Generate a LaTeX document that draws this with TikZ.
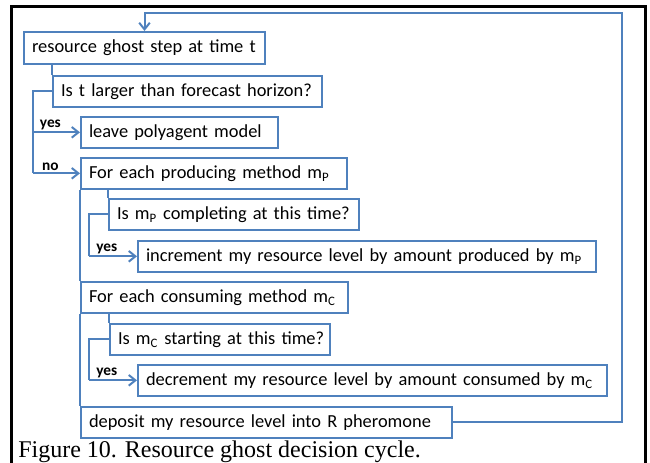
\documentclass[tikz,border=0pt]{standalone}
\usepackage{fontspec}
\setmainfont{Carlito}
\newfontfamily\capfont{Liberation Serif}
\usepackage{tikz}
\usetikzlibrary{arrows.meta}
\definecolor{boxblue}{RGB}{79,129,189}
\tikzset{
  >={Straight Barb[length=5pt,width=8pt]},
  blk/.style={draw=boxblue, line width=1.5pt, anchor=north west,
    minimum height=23pt, inner xsep=6pt, inner ysep=1pt,
    text width=#1, align=left, font=\fontsize{13.8}{16}\selectfont,
    execute at begin node={\hbox\bgroup}, execute at end node={\egroup}},
  link/.style={draw=boxblue, line width=1.5pt},
  flow/.style={link, ->},
  lab/.style={font=\bfseries\fontsize{11.5}{12}\selectfont, inner sep=1pt,
    above, pos=0.37},
}

\begin{document}
\begin{tikzpicture}[x=0.75pt, y=-0.75pt]
    \useasboundingbox (0,0) rectangle (650,463);
    \draw[line width=2.25pt] (11,463) -- (11,7) -- (645,7) -- (645,463);

    \node [blk=168.75pt, minimum height=24pt] (ghost) at (23,31) {resource ghost step at time t};
    \node [blk=189.75pt] (horizon) at (52,75) {Is t larger than forecast horizon?};
    \node [blk=135.75pt] (leave) at (80,116) {leave polyagent model};
    \node [blk=187.5pt] (produce) at (80,157) {For each producing method m\textsubscript{P}};
    \node [blk=175.5pt] (checkP) at (108,198) {Is m\textsubscript{P} completing at this time?};
    \node [blk=331.5pt] (incr) at (137,240) {increment my resource level by amount produced by m\textsubscript{P}};
    \node [blk=188.25pt] (consume) at (80,281) {For each consuming method m\textsubscript{C}};
    \node [blk=153pt] (checkC) at (109,323) {Is m\textsubscript{C} starting at this time?};
    \node [blk=339.75pt] (decr) at (137,364) {decrement my resource level by amount consumed by m\textsubscript{C}};
    \node [blk=266.25pt] (deposit) at (80,406) {deposit my resource level into R pheromone};

    \coordinate (fork) at (33,0);
    \coordinate (forkP) at (89,0);
    \coordinate (ret) at (622,13);

    \draw[link] (ghost.south -| horizon.west) -- (horizon.north west);
    \draw[link] (horizon.west) -| (fork |- produce.west);
    \draw[flow] (fork |- leave.west) -- node[lab] {yes} (leave.west);
    \draw[flow] (fork |- produce.west) -- node[lab] {no} (produce.west);

    \draw[link] (produce.south west) -- (consume.north west);
    \draw[link] (produce.south -| checkP.west) -- (checkP.north west);
    \draw[link] (checkP.west) -| (forkP |- incr.west);
    \draw[flow] (forkP |- incr.west) -- node[lab] {yes} (incr.west);

    \draw[link] (consume.south west) -- (deposit.north west);
    \draw[link] (consume.south -| checkC.west) -- (checkC.north west);
    \draw[link] (checkC.west) -| (forkP |- decr.west);
    \draw[flow] (forkP |- decr.west) -- node[lab] {yes} (decr.west);

    \draw[flow] (deposit.east) -| (ret) -| (ghost.north);

    \node [anchor=base west, inner sep=0pt, font=\capfont\fontsize{18}{20}\selectfont] (caption) at (18,457) {Figure 10. Resource ghost decision cycle.};
\end{tikzpicture}
\end{document}
